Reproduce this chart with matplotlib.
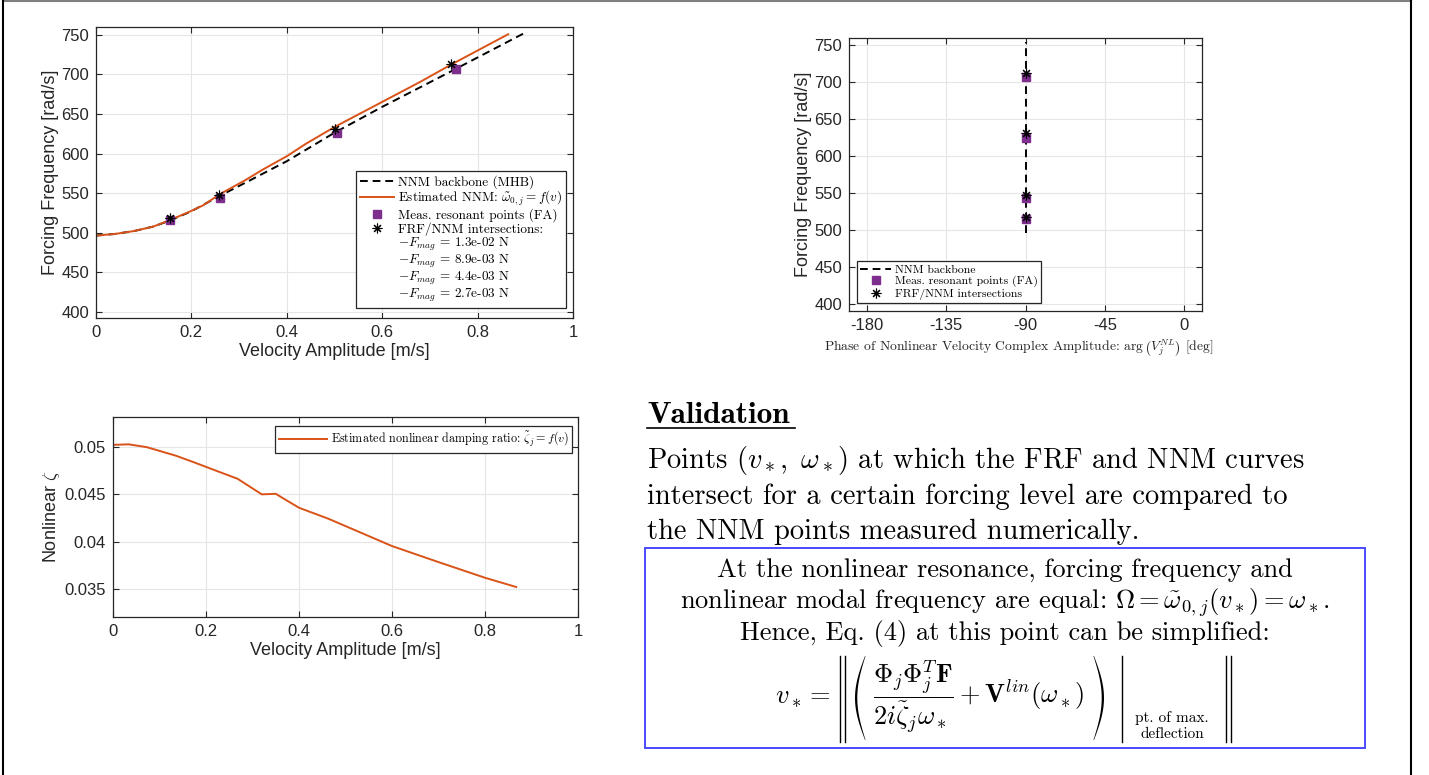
import numpy as np
import matplotlib
matplotlib.use('Agg')
import matplotlib.pyplot as plt
from matplotlib.lines import Line2D
from matplotlib.patches import Rectangle, Polygon

plt.rcParams['font.family'] = ['Liberation Sans', 'DejaVu Sans']
plt.rcParams['mathtext.fontset'] = 'cm'
plt.rcParams['axes.unicode_minus'] = False

SERIF = 'cmr10'
ORANGE = '#D95319'
PURPLE = '#7E2F8E'
DARK = '#262626'

# === data ===
# NNM backbone (MHB)
v_mhb = [0, 0.04, 0.08, 0.12, 0.156, 0.20, 0.26, 0.312, 0.40, 0.50, 0.60, 0.744, 0.904]
w_mhb = [496.2, 498.3, 502, 507.6, 515.5, 527, 546.6, 562.7, 590.3, 626.3, 659, 703.8, 754.2]

# estimated NNM
v_est = [0, 0.04, 0.08, 0.12, 0.156, 0.20, 0.224, 0.26, 0.312, 0.352, 0.40, 0.44, 0.50,
         0.60, 0.68, 0.744, 0.864]
w_est = [496.2, 498.3, 502, 507.6, 516, 527.5, 534.3, 548.7, 566, 580.5, 596.6, 612.3,
         633.5, 665.3, 690.7, 712.3, 750.8]

# measured resonant points (FA)
v_meas = [0.156, 0.26, 0.506, 0.754]
w_meas = [516, 543.2, 625.4, 706.8]

# FRF/NNM intersections
v_int = [0.156, 0.258, 0.50, 0.744]
w_int = [518.2, 547.9, 631.4, 713.1]
f_mag = ['1.3e-02', '8.9e-03', '4.4e-03', '2.7e-03']

# phases [deg]
phase_mhb = [-90] * len(w_mhb)
phase_meas = [-90, -90, -90, -90]
phase_int = [-90, -90, -90, -90]

# nonlinear damping ratio
v_zeta = [0, 0.034, 0.073, 0.135, 0.174, 0.206, 0.268, 0.32, 0.35, 0.37, 0.40, 0.464,
          0.60, 0.70, 0.80, 0.867]
zeta = [0.05025, 0.0503, 0.0500, 0.0491, 0.0484, 0.0478, 0.04665, 0.0450, 0.04506,
        0.04446, 0.04358, 0.0424, 0.03952, 0.03782, 0.03616, 0.03518]

W, H = 1429, 775
fig = plt.figure(figsize=(W / 100, H / 100), dpi=100)


def px_axes(left, right, top, bottom):
    return fig.add_axes([left / W, (H - bottom) / H, (right - left) / W, (bottom - top) / H])


def style(ax):
    ax.grid(True, color='#e6e6e6', lw=0.8)
    ax.set_axisbelow(True)
    for s in ax.spines.values():
        s.set_color(DARK)
        s.set_linewidth(0.9)
    ax.tick_params(direction='in', top=True, right=True, length=4, width=0.8,
                   colors=DARK, labelsize=12, pad=5)


def leg(ax, handles, labels, size, **kw):
    lg = ax.legend(handles, labels, prop={'family': SERIF, 'size': size},
                   fancybox=False, framealpha=1, edgecolor=DARK, borderpad=0.3,
                   handletextpad=0.3, borderaxespad=0, **kw)
    lg.get_frame().set_linewidth(0.9)
    return lg


dash = dict(color='k', ls=(0, (4, 2.5)), lw=1.4)
sq = dict(marker='s', ls='none', color=PURPLE, ms=6)
ast = dict(marker=(8, 2, 0), ls='none', color='k', ms=7, mew=0.8)

# === top-left: backbone ===
ax1 = px_axes(96, 573, 27, 318)
style(ax1)
ax1.plot(v_mhb, w_mhb, **dash)
ax1.plot(v_est, w_est, color=ORANGE, lw=1.4)
ax1.plot(v_meas, w_meas, **sq)
ax1.plot(v_int, w_int, **ast)
ax1.set_xlim(0, 1)
ax1.set_ylim(392, 760)
ax1.set_yticks(np.arange(400, 751, 50))
ax1.set_xticks([0, 0.2, 0.4, 0.6, 0.8, 1])
ax1.set_xticklabels(['0', '0.2', '0.4', '0.6', '0.8', '1'])
ax1.set_xlabel('Velocity Amplitude [m/s]', fontsize=13, color=DARK, labelpad=2)
ax1.set_ylabel('Forcing Frequency [rad/s]', fontsize=13, color=DARK, labelpad=2)
h1 = [Line2D([], [], **dash), Line2D([], [], color=ORANGE, lw=1.4),
      Line2D([], [], **sq), Line2D([], [], **ast)] + [Line2D([], [], ls='none')] * 4
l1 = ['NNM backbone (MHB)', r'Estimated NNM: $\tilde{\omega}_{0,j}=f(v)$',
      'Meas. resonant points (FA)', 'FRF/NNM intersections:'] + \
     [r'$-F_{mag}$ = ' + f + ' N' for f in f_mag]
leg(ax1, h1, l1, 9.5, loc='lower right', bbox_to_anchor=(0.986, 0.034),
    handlelength=2.6, labelspacing=0.0)

# === top-right: phase ===
ax2 = px_axes(849, 1202, 38, 311)
style(ax2)
ax2.plot(phase_mhb, w_mhb, **dash)
ax2.plot(phase_meas, w_meas, **sq)
ax2.plot(phase_int, w_int, **ast)
ax2.set_xlim(-190, 10)
ax2.set_ylim(391, 760)
ax2.set_xticks([-180, -135, -90, -45, 0])
ax2.set_yticks(np.arange(400, 751, 50))
ax2.set_xlabel(r'Phase of Nonlinear Velocity Complex Amplitude: arg$\,\left(V_j^{NL}\right)$ [deg]',
               fontfamily=SERIF, fontsize=9.8, color=DARK, labelpad=1)
ax2.xaxis.set_label_coords(0.48, -0.1)
ax2.set_ylabel('Forcing Frequency [rad/s]', fontsize=13, color=DARK, labelpad=2)
h2 = [Line2D([], [], **dash), Line2D([], [], **sq), Line2D([], [], **ast)]
l2 = ['NNM backbone', 'Meas. resonant points (FA)', 'FRF/NNM intersections']
leg(ax2, h2, l2, 8.5, loc='lower left', bbox_to_anchor=(0.022, 0.028),
    handlelength=2.6, labelspacing=0.1)

# === bottom-left: damping ===
ax3 = px_axes(113, 578, 417, 617)
style(ax3)
ax3.plot(v_zeta, zeta, color=ORANGE, lw=1.4)
ax3.set_xlim(0, 1)
ax3.set_ylim(0.032, 0.0532)
ax3.set_yticks([0.035, 0.04, 0.045, 0.05])
ax3.set_yticklabels(['0.035', '0.04', '0.045', '0.05'])
ax3.set_xticks([0, 0.2, 0.4, 0.6, 0.8, 1])
ax3.set_xticklabels(['0', '0.2', '0.4', '0.6', '0.8', '1'])
ax3.set_xlabel('Velocity Amplitude [m/s]', fontsize=13, color=DARK, labelpad=2)
ax3.set_ylabel(r'Nonlinear $\zeta$', fontsize=13, color=DARK, labelpad=2)
leg(ax3, [Line2D([], [], color=ORANGE, lw=1.4)],
    [r'Estimated nonlinear damping ratio: $\tilde{\zeta}_j = f(v)$'], 8.7,
    loc='upper right', bbox_to_anchor=(0.988, 0.955), handlelength=4)


# === text panel ===
def ft(x, y, s, family=SERIF, **kw):
    return fig.text(x / W, 1 - y / H, s, fontfamily=family, color='k', **kw)


def vbar(x, y0=656, y1=742):
    fig.add_artist(Line2D([x / W] * 2, [1 - y1 / H, 1 - y0 / H], color='k', lw=1.0))


def paren(x_edge, left=True, yc=698, h=84, w=10):
    # crescent-shaped big delimiter, thick in the middle, thin at the ends
    t = np.linspace(-1, 1, 40)
    bow = w * (1 - np.cos(t * np.pi / 2))
    thick = 0.5 + 1.8 * np.cos(t * np.pi / 2)
    sgn = 1 if left else -1
    xo = x_edge + sgn * bow
    xi = xo + sgn * thick
    y = yc + t * h / 2
    pts = np.r_[np.c_[xo, y], np.c_[xi, y][::-1]]
    pts[:, 0] /= W
    pts[:, 1] = 1 - pts[:, 1] / H
    fig.add_artist(Polygon(pts, closed=True, color='k', lw=0, transform=fig.transFigure))


ft(647, 423, 'Validation', family='cmb10', fontsize=22.5, va='baseline')
fig.add_artist(Line2D([647 / W, 795 / W], [1 - 428 / H] * 2, color='k', lw=1.2))
para = [r'Points $(v_*,\ \omega_*)$ at which the FRF and NNM curves',
        'intersect for a certain forcing level are compared to',
        'the NNM points measured numerically.']
for i, line in enumerate(para):
    ft(647, 468 + 35.5 * i, line, fontsize=20.5, va='baseline')

fig.add_artist(Rectangle((645 / W, 1 - 748 / H), 720 / W, 200 / H, fill=False,
                         edgecolor='#4a4aff', lw=1.4, transform=fig.transFigure))
box = ['At the nonlinear resonance, forcing frequency and',
       r'nonlinear modal frequency are equal: $\Omega = \tilde{\omega}_{0,j}(v_*) = \omega_*$.',
       'Hence, Eq. (4) at this point can be simplified:']
for i, line in enumerate(box):
    ft(1005, 577 + 31.5 * i, line, fontsize=19, va='baseline', ha='center')

ft(775, 698, r'$v_* =$', fontsize=19, va='center', ha='left')
vbar(840)
vbar(845)
paren(855, left=True)
ft(873, 697, r'$\dfrac{\mathbf{\Phi}_j \mathbf{\Phi}_j^T \mathbf{F}}'
   r'{2i\tilde{\zeta}_j \omega_*} + \mathbf{V}^{lin}(\omega_*)$',
   fontsize=19, va='center', ha='left')
paren(1104, left=False)
vbar(1122)
ft(1172, 722, 'pt. of max.', fontsize=11, va='baseline', ha='center')
ft(1172, 738, 'deflection', fontsize=11, va='baseline', ha='center')
vbar(1226)
vbar(1231)

# frame round the slide
fig.add_artist(Line2D([3 / W, 1411 / W], [1 - 1 / H] * 2, color='#7f7f7f', lw=1.5))
fig.add_artist(Line2D([3 / W] * 2, [0, 1 - 1 / H], color='k', lw=1.5))
fig.add_artist(Line2D([1411 / W] * 2, [0, 1 - 1 / H], color='k', lw=1.5))

fig.savefig('out.png', dpi=100)
